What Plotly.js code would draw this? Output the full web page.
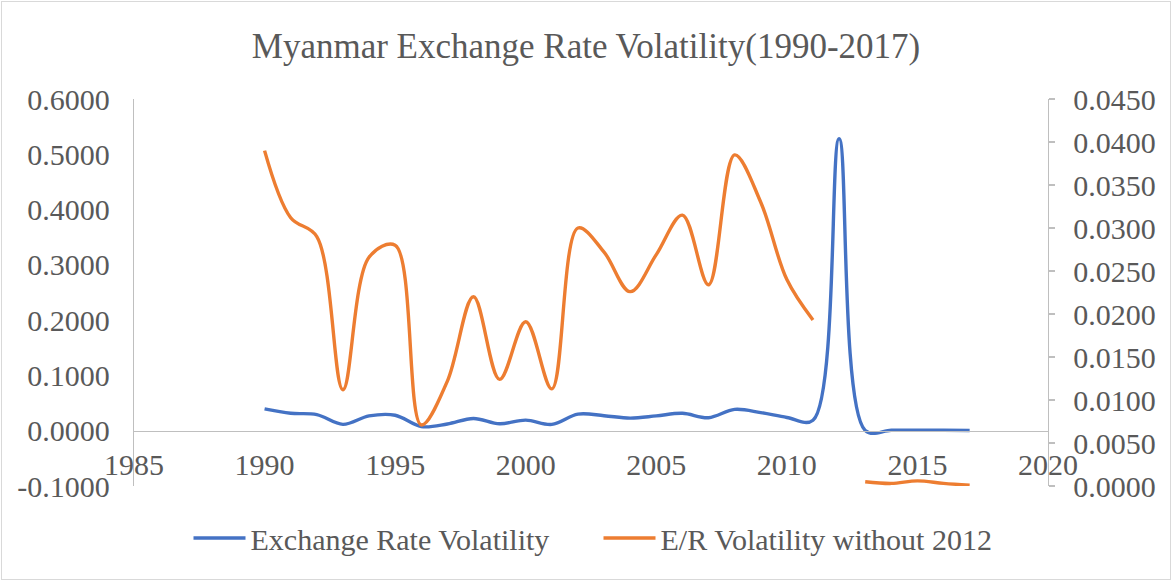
<!DOCTYPE html>
<html>
<head>
<meta charset="utf-8">
<script src="https://cdn.plot.ly/plotly-3.0.1.min.js"></script>
<style>
  html, body { margin: 0; padding: 0; background: #fff; }
  #wrap { position: relative; width: 1172px; height: 581px; }
  #chart { width: 1172px; height: 581px; }
  #frame { position: absolute; left: 1px; top: 1px; width: 1168px; height: 577px; border: 1px solid #d9d9d9; pointer-events: none; }
</style>
</head>
<body>
<div id="wrap"><div id="chart"></div><div id="frame"></div></div>
<script>
const years = [1990,1991,1992,1993,1994,1995,1996,1997,1998,1999,2000,2001,2002,2003,2004,2005,2006,2007,2008,2009,2010,2011,2012,2013,2014,2015,2016,2017];

const erVolatility = [0.0395,0.0315,0.0292,0.0115,0.0268,0.0280,0.0075,0.0122,0.0222,0.0125,0.0192,0.0115,0.0300,0.0272,0.0228,0.0268,0.0315,0.0235,0.0385,0.0328,0.0240,0.0190,0.5280,0.0005,0.0008,0.0010,0.0008,0.0005];

const erVolatilityNo2012 = [0.0390,0.0312,0.0290,0.0112,0.0266,0.0280,0.0071,0.0122,0.0220,0.0124,0.0191,0.0113,0.0300,0.0272,0.0226,0.0269,0.0315,0.0234,0.0385,0.0330,0.0240,0.0193,null,0.0005,0.0003,0.0006,0.0003,0.0001];

const leftTicks = [-0.1,0,0.1,0.2,0.3,0.4,0.5,0.6];
const rightTicks = [0,0.005,0.01,0.015,0.02,0.025,0.03,0.035,0.04,0.045];
const xTicks = [1985,1990,1995,2000,2005,2010,2015,2020];

const seriesNames = ['Exchange Rate Volatility','E/R Volatility without 2012'];
const titleText = 'Myanmar Exchange Rate Volatility(1990-2017)';

const FONT = '"Liberation Serif", "Times New Roman", serif';
const TXT = '#595959';
const AX = '#bfbfbf';

const traces = [
  { x: years, y: erVolatility, name: seriesNames[0], type: 'scatter', mode: 'lines',
    line: { color: '#4472C4', width: 3.4, shape: 'spline', smoothing: 1 }, yaxis: 'y' },
  { x: years, y: erVolatilityNo2012, name: seriesNames[1], type: 'scatter', mode: 'lines',
    line: { color: '#ED7D31', width: 3.4, shape: 'spline', smoothing: 1 }, connectgaps: false, yaxis: 'y2' }
];

const layout = {
  width: 1172, height: 581,
  margin: { l: 134, r: 124, t: 99, b: 95, autoexpand: false },
  paper_bgcolor: 'rgba(0,0,0,0)', plot_bgcolor: 'rgba(0,0,0,0)',
  font: { family: FONT, color: TXT, size: 30 },
  title: { text: titleText, font: { family: FONT, size: 35, color: TXT },
           x: 0.5, xanchor: 'center', xref: 'container', y: 1 - 46/581, yanchor: 'middle', yref: 'container' },
  showlegend: true,
  legend: { orientation: 'h', xref: 'container', x: 598.5/1172, xanchor: 'center', yref: 'container', y: 1 - 538/581, yanchor: 'middle',
            font: { family: FONT, size: 30, color: TXT }, itemwidth: 52, entrywidth: 343, entrywidthmode: 'pixels', tracegroupgap: 0 },
  xaxis: {
    range: [1985, 2020], tickmode: 'array', tickvals: xTicks, ticktext: xTicks.map(String),
    showgrid: false, zeroline: false, showline: true, linecolor: AX, linewidth: 1.3,
    ticks: '', anchor: 'free', position: 55/387, ticklabelstandoff: 7,
    tickfont: { family: FONT, size: 30, color: TXT }, fixedrange: true
  },
  yaxis: {
    range: [-0.1, 0.6], tickmode: 'array', tickvals: leftTicks, ticktext: leftTicks.map(v => v.toFixed(4)),
    showgrid: false, zeroline: false, showline: true, linecolor: AX, linewidth: 1.3,
    ticks: '', ticklabelstandoff: 17, tickfont: { family: FONT, size: 30, color: TXT }
  },
  yaxis2: {
    range: [0, 0.045], overlaying: 'y', side: 'right', tickmode: 'array', tickvals: rightTicks,
    ticktext: rightTicks.map(v => v.toFixed(4)),
    showgrid: false, zeroline: false, showline: true, linecolor: AX, linewidth: 1.3,
    ticks: 'outside', ticklen: 6, tickcolor: AX, tickwidth: 1.3, ticklabelstandoff: 12,
    tickfont: { family: FONT, size: 30, color: TXT }
  }
};

Plotly.newPlot('chart', traces, layout, { displayModeBar: false, staticPlot: true });
</script>
</body>
</html>
